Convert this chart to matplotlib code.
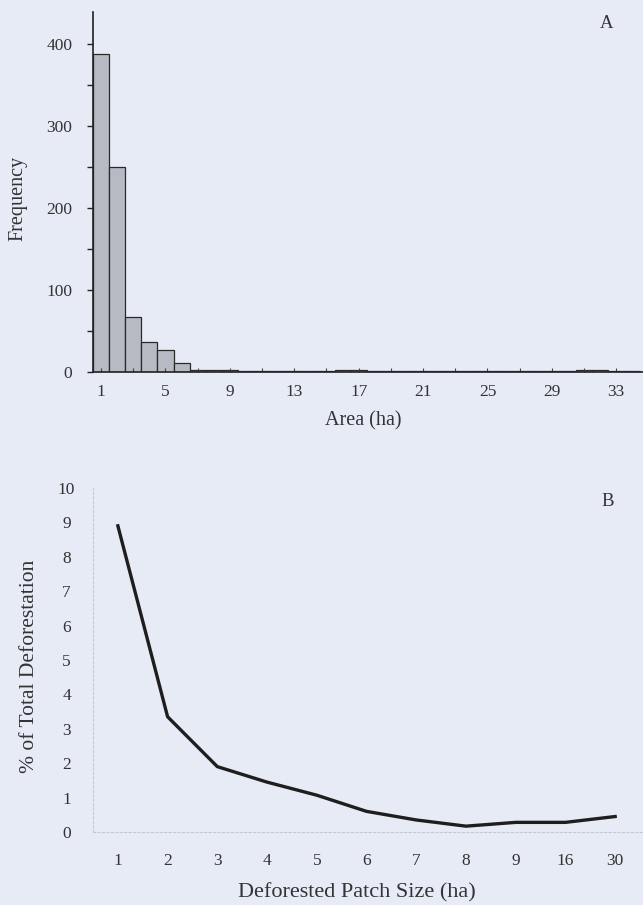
import matplotlib
matplotlib.use("Agg")
import matplotlib.pyplot as plt
import numpy as np

plt.rcParams['font.family'] = ['Liberation Serif', 'DejaVu Serif']

# Panel A: histogram of patch areas
area_bins = list(range(1, 35))
frequency = [388, 250, 67, 36, 27, 11, 2, 3, 2, 1, 1, 1, 1, 1, 1, 2, 2, 1, 1, 1,
             1, 1, 1, 1, 1, 1, 1, 1, 1, 1, 3, 2, 1, 1]
area_ticklabels = [1, 5, 9, 13, 17, 21, 25, 29, 33]

# Panel B: % of total deforestation by patch size
patch_sizes = ['1', '2', '3', '4', '5', '6', '7', '8', '9', '16', '30']
pct_deforestation = [8.9, 3.35, 1.9, 1.45, 1.07, 0.6, 0.35, 0.17, 0.28, 0.28, 0.45]

W, H = 643, 905
bg = '#e7ebf6'
txt = '#333333'
fig = plt.figure(figsize=(W / 100, H / 100), dpi=100, facecolor=bg)

# ---------- Panel A ----------
axA = fig.add_axes([93 / W, 1 - 372 / H, 550 / W, 360 / H])
axA.set_facecolor(bg)
axA.bar(area_bins, frequency, width=1.0, color='#b7bac2', edgecolor='#2a2a2a', linewidth=0.9)
axA.set_xlim(0.5, 34.66)
axA.set_ylim(0, 439)
axA.spines['top'].set_visible(False)
axA.spines['right'].set_visible(False)
for s in ('left', 'bottom'):
    axA.spines[s].set_color('#222222')
    axA.spines[s].set_linewidth(1.2)
axA.set_yticks([0, 100, 200, 300, 400])
axA.set_yticks([50, 150, 250, 350], minor=True)
axA.tick_params(axis='y', which='both', direction='out', length=4, width=1, colors='#222222',
                labelsize=12.5, labelcolor=txt, pad=11)
axA.set_xticks(area_ticklabels)
axA.set_xticklabels([str(v) for v in area_ticklabels])
axA.set_xticks(np.arange(3, 35, 4), minor=True)
axA.tick_params(axis='x', which='both', direction='in', length=3, width=0.8, colors='#444444',
                labelsize=12.5, labelcolor=txt, pad=9)
fig.text(363 / W, 1 - 421 / H, 'Area (ha)', ha='center', va='center', fontsize=14.5, color=txt)
fig.text(18 / W, 1 - 198 / H, 'Frequency', ha='center', va='center', rotation=90, fontsize=14.5, color=txt)
fig.text(607 / W, 1 - 24 / H, 'A', ha='center', va='center', fontsize=13.5, color=txt)

# ---------- Panel B ----------
axB = fig.add_axes([93 / W, 1 - 832 / H, 550 / W, 344 / H])
axB.set_facecolor(bg)
xpos = np.arange(len(patch_sizes))
axB.plot(xpos, pct_deforestation, color='#1e1e1e', linewidth=2.4)
axB.set_xlim(-0.5, 10.56)
axB.set_ylim(0, 10)
axB.spines['top'].set_visible(False)
axB.spines['right'].set_visible(False)
for s in ('left', 'bottom'):
    axB.spines[s].set_color('#c4c8d2')
    axB.spines[s].set_linestyle((0, (2, 2)))
    axB.spines[s].set_linewidth(0.8)
axB.set_yticks(range(0, 11))
axB.set_xticks(xpos)
axB.set_xticklabels(patch_sizes)
axB.tick_params(axis='y', length=0, labelsize=12.5, labelcolor=txt)
for lbl in axB.get_yticklabels():
    lbl.set_horizontalalignment('center')
axB.tick_params(axis='y', pad=19)
axB.tick_params(axis='x', length=0, labelsize=12.5, labelcolor=txt, pad=15)
fig.text(357 / W, 1 - 893 / H, 'Deforested Patch Size (ha)', ha='center', va='center', fontsize=16, color=txt)
fig.text(30 / W, 1 - 666 / H, '% of Total Deforestation', ha='center', va='center', rotation=90,
         fontsize=15.5, color=txt)
fig.text(608 / W, 1 - 502 / H, 'B', ha='center', va='center', fontsize=13.5, color=txt)

fig.savefig('out.png', dpi=100, facecolor=bg)
